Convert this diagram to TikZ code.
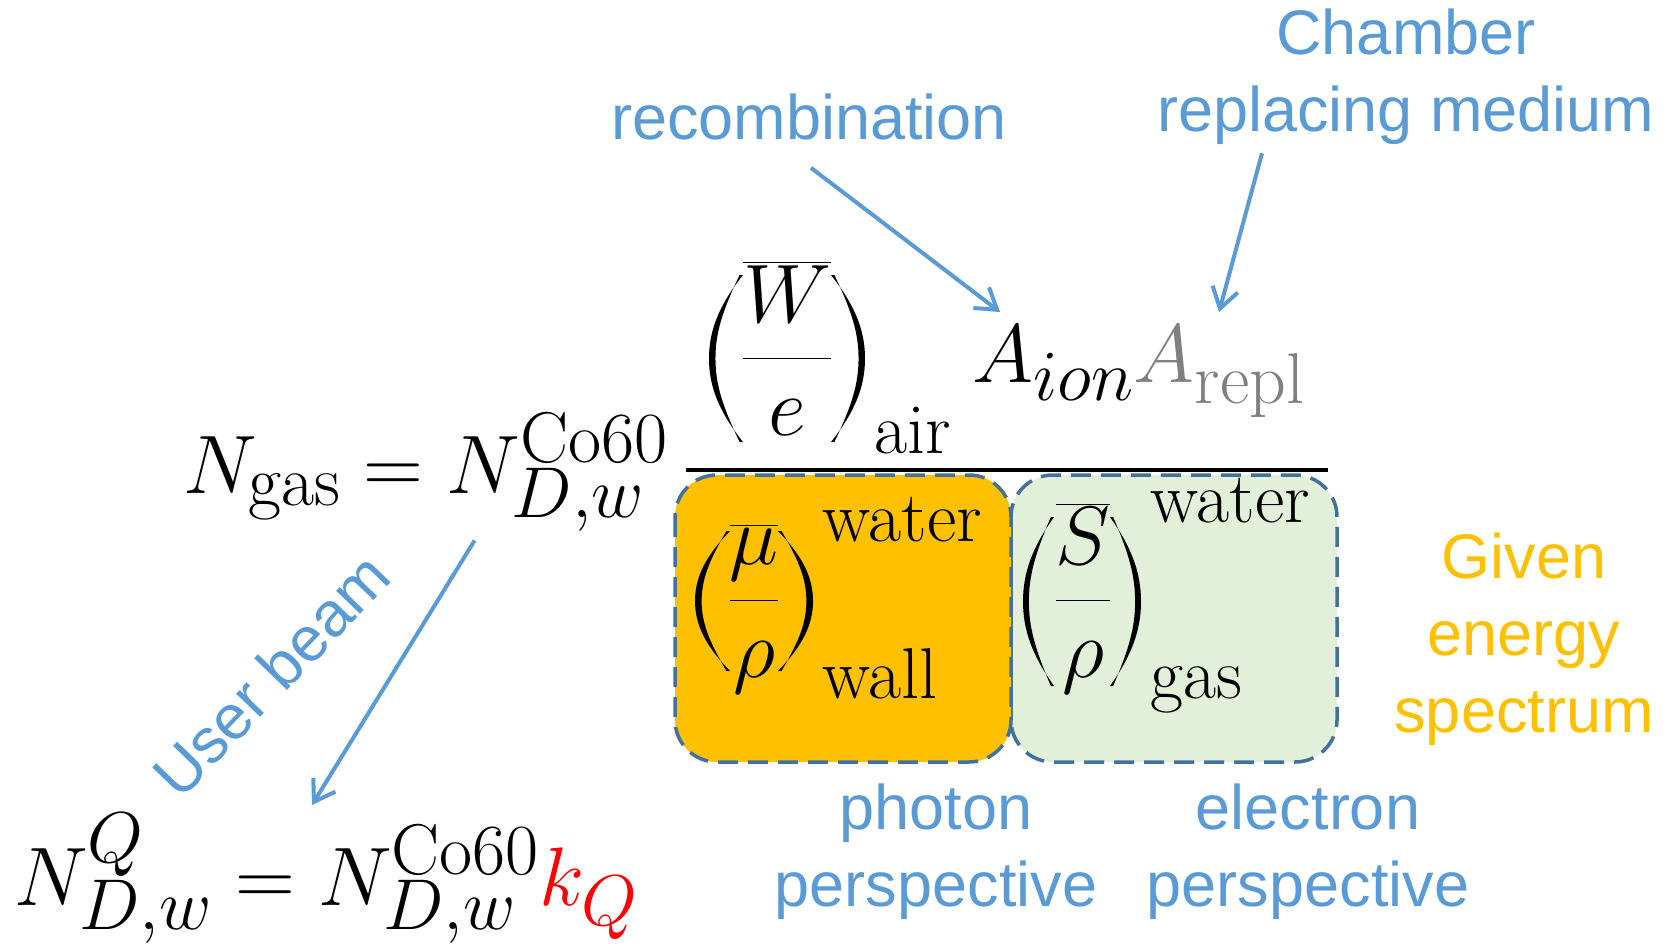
\documentclass[tikz,border=0pt]{standalone}
\usepackage{fix-cm}
\usepackage{amsmath}
\usepackage{fontspec}
\newfontfamily\labelfont{Liberation Sans}
\usetikzlibrary{arrows.meta}
\DeclareMathSizes{83}{83}{72}{55}
\definecolor{noteblue}{HTML}{5B9BD5}
\definecolor{givenorange}{HTML}{FFC000}
\definecolor{photonfill}{HTML}{FFC000}
\definecolor{electronfill}{HTML}{E2F0D9}
\definecolor{boxedge}{HTML}{41719C}
\definecolor{replgray}{HTML}{808080}
% a round bracket of unit size, bulge at the origin
\tikzset{lparen/.pic={
  \fill (1,-0.5) .. controls (0.3,-0.32) and (0,-0.17) .. (0,0) .. controls (0,0.17) and (0.3,0.32) .. (1,0.5)
    -- (0.9,0.5) .. controls (0.38,0.28) and (0.19,0.15) .. (0.19,0) .. controls (0.19,-0.15) and (0.38,-0.28) .. (0.9,-0.5) -- cycle;}}

\begin{document}
\begin{tikzpicture}[x=1pt, y=-1pt,
  eqn/.style={inner sep=0pt, font=\fontsize{83}{100}\selectfont},
  subsup/.style={inner sep=0pt, font=\fontsize{72}{80}\selectfont},
  notelabel/.style={inner sep=0pt, align=center, text=noteblue, font=\labelfont\fontsize{63}{77}\selectfont},
  pointer/.style={draw=noteblue, line width=4pt, -{Straight Barb[length=20pt,width=26pt]}},
  termbox/.style={draw=boxedge, line width=3.5pt, dash pattern=on 20pt off 10pt, rounded corners=42pt}]
  \useasboundingbox (0,0) rectangle (1671,944);

  % denominator terms
  \draw[termbox, fill=electronfill] (1011,475) rectangle (1337,762);
  \draw[termbox, fill=photonfill] (675,475) rectangle (1011,762);

  \node[eqn, anchor=base west] (ngas) at (183,493) {$N_{\mathrm{gas}} = N_{D,w}^{\mathrm{Co60}}$};
  \draw[line width=4pt] (686,470) -- (1328,470);

  \node[eqn, anchor=base] (wfrac) at (787,379) {$\displaystyle\frac{\overline{W}}{e}$};
  \pic[xscale=34, yscale=167] at (709,358.5) {lparen};
  \pic[xscale=-34, yscale=167] at (865,358.5) {lparen};
  \node[subsup, anchor=base west] (air) at (874,453) {air};
  \node[eqn, anchor=base west] (aion) at (972,382) {$A_{ion}{\color{replgray}A_{\mathrm{repl}}}$};

  \node[eqn, anchor=base] (mufrac) at (754,621) {$\displaystyle\frac{\overline{\mu}}{\rho}$};
  \pic[xscale=35, yscale=140] at (695,601) {lparen};
  \pic[xscale=-35, yscale=140] at (813,601) {lparen};
  \node[subsup, anchor=base west] (muwater) at (822,541) {water};
  \node[subsup, anchor=base west] (wall) at (822,698) {wall};

  \node[eqn, anchor=base] (sfrac) at (1083,621) {$\displaystyle\frac{\overline{S}}{\rho}$};
  \pic[xscale=31, yscale=169] at (1023,601.5) {lparen};
  \pic[xscale=-31, yscale=169] at (1141,601.5) {lparen};
  \node[subsup, anchor=base west] (swater) at (1150,522) {water};
  \node[subsup, anchor=base west] (gas) at (1150,698) {gas};

  \node[eqn, anchor=base west] (nq) at (14,905) {$N_{D,w}^{Q} = N_{D,w}^{\mathrm{Co60}}{\color{red}k_Q}$};

  % remarks
  \node[notelabel, anchor=base] (recomb) at (809,140) {recombination};
  \node[notelabel, anchor=base] (chamber) at (1406,132) {Chamber\\replacing medium};
  \node[notelabel, anchor=base, text=givenorange] (given) at (1524,732) {Given\\energy\\spectrum};
  \node[notelabel, anchor=base] (photon) at (936,906) {photon\\perspective};
  \node[notelabel, anchor=base] (electron) at (1308,906) {electron\\perspective};
  \node[notelabel, rotate=46] (userbeam) at (271,675) {User beam};

  \coordinate (recTip) at (1000,312);
  \coordinate (replTip) at (1219,312);
  \coordinate (beamTip) at (312,805);
  \draw[pointer] ([xshift=2pt,yshift=-27pt]recomb.south) -- (recTip);
  \draw[pointer] ([xshift=-144pt,yshift=-8pt]chamber.south) -- (replTip);
  \draw[pointer] ([xshift=49pt,yshift=-9pt]ngas.south) -- (beamTip);
\end{tikzpicture}
\end{document}
